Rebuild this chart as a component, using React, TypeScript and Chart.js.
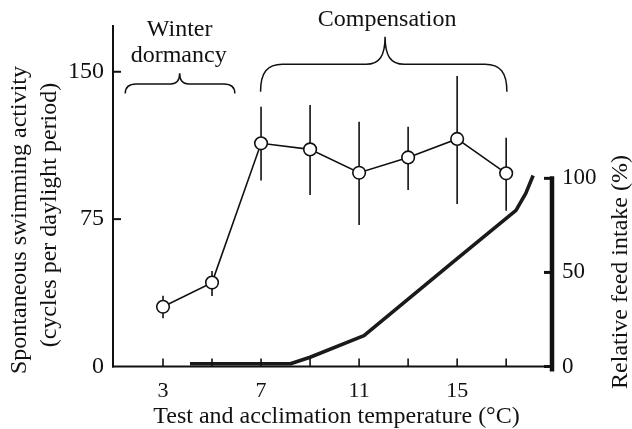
import React, { useEffect, useRef } from "react";
import { Chart, registerables } from "chart.js";

Chart.register(...registerables);

// ---- Data ----
const temps = [3, 5, 7, 9, 11, 13, 15, 17];
const activity = [30.4, 42.7, 113.6, 110.5, 98.6, 106.4, 115.8, 98.3];
const activityHigh = [36.0, 48.6, 132.2, 133.1, 124.6, 122.0, 147.8, 116.4];
const activityLow = [24.5, 35.9, 94.6, 87.3, 72.0, 89.8, 82.7, 79.3];

const feedTemps = [4.1, 8.2, 9.0, 11.2, 15.0, 17.4, 17.8, 18.1];
const feedIntake = [1.5, 1.5, 4.9, 16.4, 57.3, 83.0, 92.0, 101.5];

const xTickLabels = [3, 7, 11, 15];
const xTickMarks = [3, 5, 7, 9, 11, 13, 15, 17];
const leftTicks = [0, 75, 150];
const rightTicks = [0, 50, 100];

const xTitle = "Test and acclimation temperature (°C)";
const yTitle = ["Spontaneous swimming activity", "(cycles per daylight period)"];
const y2Title = "Relative feed intake (%)";
const phaseWinter = ["Winter", "dormancy"];
const phaseComp = "Compensation";

const FONT = "'Liberation Serif', 'Times New Roman', serif";
const INK = "#111";

function drawBrace(ctx: CanvasRenderingContext2D, x0: number, x1: number, xc: number, yBase: number, yTop: number, yPeak: number, r: number, w: number) {
  ctx.beginPath();
  ctx.moveTo(x0, yBase);
  ctx.bezierCurveTo(x0, yTop + (yBase - yTop) * 0.3, x0 + r * 0.3, yTop, x0 + r, yTop);
  ctx.lineTo(xc - w, yTop);
  ctx.bezierCurveTo(xc - w * 0.3, yTop, xc, yTop - (yTop - yPeak) * 0.3, xc, yPeak);
  ctx.bezierCurveTo(xc, yTop - (yTop - yPeak) * 0.3, xc + w * 0.3, yTop, xc + w, yTop);
  ctx.lineTo(x1 - r, yTop);
  ctx.bezierCurveTo(x1 - r * 0.3, yTop, x1, yTop + (yBase - yTop) * 0.3, x1, yBase);
  ctx.stroke();
}

const decorPlugin = {
  id: "decor",
  beforeDatasetsDraw(chart: any) {
    const { ctx } = chart;
    const x = chart.scales.x;
    const y = chart.scales.y;
    ctx.save();
    ctx.strokeStyle = INK;
    ctx.lineWidth = 1.6;
    for (let i = 0; i < temps.length; i++) {
      const px = x.getPixelForValue(temps[i]);
      ctx.beginPath();
      ctx.moveTo(px, y.getPixelForValue(activityHigh[i]));
      ctx.lineTo(px, y.getPixelForValue(activityLow[i]));
      ctx.stroke();
    }
    ctx.restore();
  },
  afterDraw(chart: any) {
    const { ctx, chartArea } = chart;
    const x = chart.scales.x;
    const y = chart.scales.y;
    const y2 = chart.scales.y2;
    const { left, right, top, bottom } = chartArea;
    ctx.save();
    ctx.strokeStyle = INK;
    ctx.lineCap = "butt";
    // left axis
    ctx.lineWidth = 2;
    ctx.beginPath();
    ctx.moveTo(left, top);
    ctx.lineTo(left, bottom + 1);
    ctx.stroke();
    // x axis
    ctx.beginPath();
    ctx.moveTo(left - 1, bottom);
    ctx.lineTo(right, bottom);
    ctx.stroke();
    // left ticks (inward)
    for (const v of leftTicks) {
      if (v === 0) continue;
      const py = y.getPixelForValue(v);
      ctx.beginPath();
      ctx.moveTo(left, py);
      ctx.lineTo(left + 8, py);
      ctx.stroke();
    }
    // x ticks (inward)
    ctx.lineWidth = 1.6;
    for (const v of xTickMarks) {
      const px = x.getPixelForValue(v);
      ctx.beginPath();
      ctx.moveTo(px, bottom);
      ctx.lineTo(px, bottom - 8);
      ctx.stroke();
    }
    // right axis
    ctx.lineWidth = 4.5;
    ctx.beginPath();
    ctx.moveTo(right, y2.getPixelForValue(100) - 2);
    ctx.lineTo(right, bottom + 5);
    ctx.stroke();
    ctx.lineWidth = 3;
    for (const v of rightTicks) {
      const py = y2.getPixelForValue(v);
      ctx.beginPath();
      ctx.moveTo(right, py);
      ctx.lineTo(right - 8, py);
      ctx.stroke();
    }
    // braces
    ctx.lineWidth = 1.5;
    drawBrace(ctx, x.getPixelForValue(1.46), x.getPixelForValue(5.93), x.getPixelForValue(3.68),
      y.getPixelForValue(139.0), y.getPixelForValue(143.8), y.getPixelForValue(149.2), 11, 9);
    drawBrace(ctx, x.getPixelForValue(6.98), x.getPixelForValue(17.03), x.getPixelForValue(12.06),
      y.getPixelForValue(139.8), y.getPixelForValue(153.8), y.getPixelForValue(167.8), 22, 19);

    // texts
    ctx.fillStyle = INK;
    ctx.textAlign = "center";
    ctx.textBaseline = "middle";
    ctx.font = `24px ${FONT}`;
    const wx = x.getPixelForValue(3.68);
    ctx.fillText(phaseWinter[0], wx, 30);
    ctx.fillText(phaseWinter[1], wx - 1, 56);
    ctx.fillText(phaseComp, x.getPixelForValue(12.06) + 2, 20);

    ctx.fillText(xTitle, 336.5, 417);

    ctx.save();
    ctx.translate(20, 220);
    ctx.rotate(-Math.PI / 2);
    ctx.fillText(yTitle[0], 0, 0);
    ctx.restore();
    ctx.save();
    ctx.translate(50, 215);
    ctx.rotate(-Math.PI / 2);
    ctx.fillText(yTitle[1], 0, 0);
    ctx.restore();
    ctx.save();
    ctx.translate(621, 272);
    ctx.rotate(-Math.PI / 2);
    ctx.fillText(y2Title, 0, 0);
    ctx.restore();

    ctx.restore();
  },
};

export default function App() {
  const ref = useRef<HTMLCanvasElement | null>(null);
  useEffect(() => {
    if (!ref.current) return;
    const chart = new Chart(ref.current, {
      type: "line",
      data: {
        datasets: [
          {
            label: "Relative feed intake",
            data: feedTemps.map((t, i) => ({ x: t, y: feedIntake[i] })),
            yAxisID: "y2",
            borderColor: "#1a1a1a",
            borderWidth: 3.6,
            pointRadius: 0,
            tension: 0,
            fill: false,
            borderJoinStyle: "round",
          },
          {
            label: "Spontaneous swimming activity",
            data: temps.map((t, i) => ({ x: t, y: activity[i] })),
            yAxisID: "y",
            borderColor: INK,
            borderWidth: 1.6,
            pointRadius: 6.3,
            pointBorderWidth: 1.6,
            pointBackgroundColor: "#fff",
            pointBorderColor: INK,
            tension: 0,
            fill: false,
          },
        ],
      },
      options: {
        animation: false,
        responsive: false,
        layout: { padding: { top: 25, left: 0, right: 0, bottom: 0 } },
        plugins: { legend: { display: false }, tooltip: { enabled: false } },
        scales: {
          x: {
            type: "linear",
            min: 0.96,
            max: 18.87,
            grid: { display: false, drawTicks: false },
            border: { display: false },
            afterBuildTicks: (s: any) => { s.ticks = xTickLabels.map((v) => ({ value: v })); },
            afterFit: (s: any) => { s.height = 62.5; },
            ticks: { font: { family: FONT, size: 22 }, color: INK, padding: 12, maxRotation: 0, autoSkip: false },
          },
          y: {
            type: "linear",
            position: "left",
            min: 0,
            max: 173.8,
            grid: { display: false, drawTicks: false },
            border: { display: false },
            afterBuildTicks: (s: any) => { s.ticks = leftTicks.map((v) => ({ value: v })); },
            afterFit: (s: any) => { s.width = 113; },
            ticks: { font: { family: FONT, size: 24 }, color: INK, padding: 9 },
          },
          y2: {
            type: "linear",
            position: "right",
            min: 0,
            max: 181.5,
            grid: { display: false, drawTicks: false },
            border: { display: false },
            afterBuildTicks: (s: any) => { s.ticks = rightTicks.map((v) => ({ value: v })); },
            afterFit: (s: any) => { s.width = 80; },
            ticks: { font: { family: FONT, size: 23 }, color: INK, padding: 10 },
          },
        },
      },
      plugins: [decorPlugin],
    } as any);
    return () => chart.destroy();
  }, []);
  return (
    <div style={{ position: "absolute", left: 0, top: 0, width: 632, height: 429, background: "#fff" }}>
      <canvas ref={ref} width={632} height={429} style={{ display: "block" }} />
    </div>
  );
}
